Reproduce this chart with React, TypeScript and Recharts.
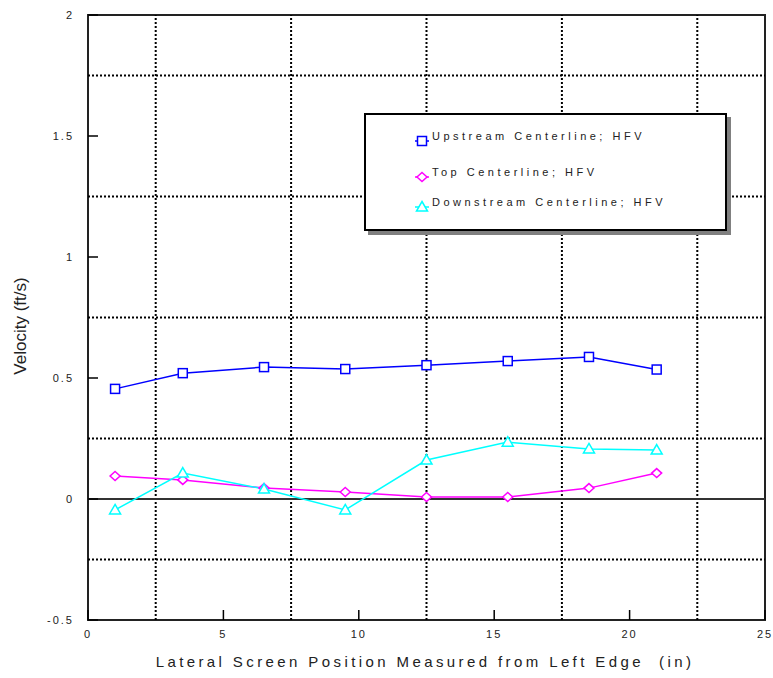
import React from "react";
import {
  LineChart,
  Line,
  XAxis,
  YAxis,
  ReferenceLine,
  ReferenceArea,
} from "recharts";

const positions = [1, 3.5, 6.5, 9.5, 12.5, 15.5, 18.5, 21];
const upstream = [0.455, 0.52, 0.545, 0.537, 0.553, 0.57, 0.587, 0.535];
const top = [0.095, 0.079, 0.045, 0.029, 0.008, 0.008, 0.045, 0.107];
const downstream = [-0.045, 0.107, 0.041, -0.045, 0.161, 0.235, 0.207, 0.202];

const xTicks = [0, 5, 10, 15, 20, 25];
const yTicks = [-0.5, 0, 0.5, 1, 1.5, 2];
const xGrid = [2.5, 7.5, 12.5, 17.5, 22.5];
const yGrid = [-0.25, 0.25, 0.75, 1.25, 1.75];

const series = [
  { key: "up", name: "Upstream Centerline; HFV", color: "#0000ff", shape: "square" },
  { key: "top", name: "Top Centerline; HFV", color: "#ff00ff", shape: "diamond" },
  { key: "down", name: "Downstream Centerline; HFV", color: "#00ffff", shape: "triangle" },
];

const data = positions.map((x, i) => ({
  x,
  up: upstream[i],
  top: top[i],
  down: downstream[i],
}));

const FONT = "'Liberation Sans', Arial, sans-serif";

function Marker({ cx, cy, shape, color }: any) {
  if (cx == null || cy == null) return null;
  if (shape === "square") {
    return <rect x={cx - 4.5} y={cy - 4.5} width={9} height={9} fill="#fff" stroke={color} strokeWidth={1.5} />;
  }
  if (shape === "diamond") {
    return (
      <polygon
        points={`${cx},${cy - 4.5} ${cx + 5},${cy} ${cx},${cy + 4.5} ${cx - 5},${cy}`}
        fill="#fff"
        stroke={color}
        strokeWidth={1.5}
      />
    );
  }
  return (
    <polygon
      points={`${cx},${cy - 5.5} ${cx + 5.5},${cy + 4} ${cx - 5.5},${cy + 4}`}
      fill="#fff"
      stroke={color}
      strokeWidth={1.5}
    />
  );
}

function XTick({ x, y, payload }: any) {
  return (
    <g>
      <line x1={x} y1={y} x2={x} y2={y - 10} stroke="#000" strokeWidth={1.5} />
      <text x={x} y={y + 18} textAnchor="middle" fontSize={11} letterSpacing={2} fontFamily={FONT} fill="#222">
        {payload.value}
      </text>
    </g>
  );
}

function YTick({ x, y, payload }: any) {
  return (
    <g>
      <line x1={x} y1={y} x2={x + 10} y2={y} stroke="#000" strokeWidth={1.5} />
      <text x={x - 14} y={y + 4} textAnchor="end" fontSize={11} letterSpacing={2} fontFamily={FONT} fill="#222">
        {payload.value}
      </text>
    </g>
  );
}

function LegendBox() {
  return (
    <div style={{ position: "absolute", left: 364, top: 113, width: 367, height: 122 }}>
      <div
        style={{
          position: "absolute",
          left: 4,
          top: 4,
          width: 363,
          height: 118,
          background: "#808080",
        }}
      />
      <div
        style={{
          position: "absolute",
          left: 0,
          top: 0,
          width: 359,
          height: 114,
          background: "#fff",
          border: "2px solid #000",
        }}
      >
        {series.map((s, i) => (
          <div
            key={s.key}
            style={{
              position: "absolute",
              left: 48,
              top: [14, 50, 80][i],
              display: "flex",
              alignItems: "flex-start",
              fontFamily: FONT,
              fontSize: 11,
              lineHeight: "14px",
              letterSpacing: 3.5,
              color: "#222",
              whiteSpace: "pre",
            }}
          >
            <svg width={16} height={14} style={{ marginRight: 2, marginTop: 5 }}>
              <line x1={1} y1={7} x2={15} y2={7} stroke={s.color} strokeWidth={1.5} />
              <Marker cx={8} cy={7} shape={s.shape} color={s.color} />
            </svg>
            <span>{s.name}</span>
          </div>
        ))}
      </div>
    </div>
  );
}

export default function App() {
  return (
    <div style={{ position: "absolute", left: 0, top: 0, width: 773, height: 678, background: "#fff" }}>
      <LineChart width={773} height={678} data={data} margin={{ top: 15, right: 8, bottom: 28, left: 8 }}>
        {xGrid.map((v) => (
          <ReferenceLine key={`gx${v}`} x={v} stroke="#000" strokeWidth={2} strokeDasharray="2 2" />
        ))}
        {yGrid.map((v) => (
          <ReferenceLine key={`gy${v}`} y={v} stroke="#000" strokeWidth={2} strokeDasharray="2 2" />
        ))}
        <ReferenceLine y={0} stroke="#333" strokeWidth={2} />
        <ReferenceArea x1={0} x2={25} y1={-0.5} y2={2} fill="none" stroke="#222" strokeWidth={2} />
        <XAxis
          dataKey="x"
          type="number"
          domain={[0, 25]}
          ticks={xTicks}
          height={30}
          tickSize={0}
          tickMargin={0}
          axisLine={false}
          tick={<XTick />}
          interval={0}
          label={{
            content: () => (
              <text
                x={425}
                y={667}
                textAnchor="middle"
                fontSize={15}
                letterSpacing={3.4}
                fontFamily={FONT}
                fill="#222"
                style={{ whiteSpace: "pre" }}
              >
                Lateral Screen Position Measured from Left Edge  (in)
              </text>
            ),
          }}
        />
        <YAxis
          type="number"
          domain={[-0.5, 2]}
          ticks={yTicks}
          width={80}
          tickSize={0}
          tickMargin={0}
          axisLine={false}
          tick={<YTick />}
          interval={0}
          label={{
            content: () => (
              <text
                x={26}
                y={326}
                transform="rotate(-90 26 326)"
                textAnchor="middle"
                fontSize={17}
                fontFamily={FONT}
                fill="#222"
              >
                Velocity (ft/s)
              </text>
            ),
          }}
        />
        {series.map((s) => (
          <Line
            key={s.key}
            dataKey={s.key}
            name={s.name}
            stroke={s.color}
            strokeWidth={1.5}
            isAnimationActive={false}
            dot={(p: any) => <Marker key={`${s.key}${p.index}`} cx={p.cx} cy={p.cy} shape={s.shape} color={s.color} />}
            activeDot={false}
          />
        ))}
      </LineChart>
      <LegendBox />
    </div>
  );
}
